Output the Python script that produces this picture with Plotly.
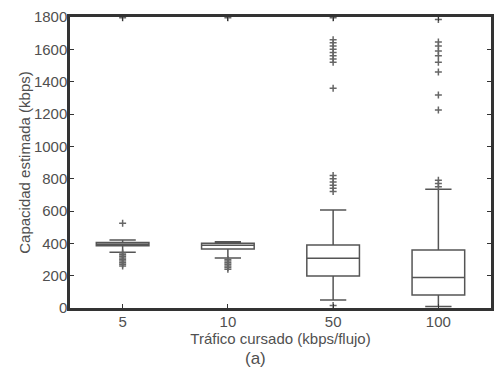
import plotly.graph_objects as go

categories = ["5", "10", "50", "100"]
positions = [1, 2, 3, 4]
q1 = [385, 365, 198, 80]
median = [395, 388, 307, 188]
q3 = [405, 400, 390, 359]
lowerfence = [345, 310, 50, 10]
upperfence = [420, 410, 606, 734]

outliers = {
    1: [525, 340, 330, 320, 310, 300, 290, 280, 270, 260, 1795],
    2: [300, 290, 280, 270, 260, 250, 240, 1795],
    3: [1795, 1660, 1640, 1620, 1600, 1580, 1560, 1540, 1520, 1360,
        820, 800, 780, 760, 740, 720, 15],
    4: [1785, 1645, 1620, 1590, 1560, 1520, 1460, 1317, 1225, 790, 770, 750],
}

fig = go.Figure()
fig.add_trace(go.Box(
    x=positions, q1=q1, median=median, q3=q3,
    lowerfence=lowerfence, upperfence=upperfence,
    boxpoints=False, width=0.5, whiskerwidth=0.5,
    fillcolor="white", line=dict(color="#555555", width=1.5),
    showlegend=False,
))
for pos, vals in outliers.items():
    fig.add_trace(go.Scatter(
        x=[pos] * len(vals), y=vals, mode="markers",
        marker=dict(symbol="cross-thin-open", size=5, color="#666666",
                    line=dict(color="#666666", width=1.5)),
        showlegend=False, cliponaxis=True,
    ))

txt = "#505050"
fig.update_layout(
    width=494, height=377,
    margin=dict(l=70, r=0, t=17, b=69),
    paper_bgcolor="white", plot_bgcolor="white",
    font=dict(family="Liberation Sans, Arial, sans-serif", size=15, color=txt),
    xaxis=dict(
        range=[0.5, 4.5], tickvals=positions, ticktext=categories,
        showgrid=False, zeroline=False,
        showline=True, linecolor="#333333", linewidth=2.5, mirror="ticks",
        ticks="inside", ticklen=4, tickcolor="#333333",
        ticklabelstandoff=-2,
        title=dict(text="Tráfico cursado (kbps/flujo)", standoff=0,
                   font=dict(size=15, color=txt)),
    ),
    yaxis=dict(
        range=[0, 1800], tickvals=list(range(0, 1801, 200)),
        showgrid=False, zeroline=False,
        showline=True, linecolor="#333333", linewidth=2.5, mirror="ticks",
        ticks="inside", ticklen=4, tickcolor="#333333",
        ticklabelstandoff=-3,
        title=dict(text="Capacidad estimada (kbps)", standoff=0,
                   font=dict(size=15, color=txt)),
    ),
    annotations=[dict(
        text="(a)", xref="paper", yref="paper", x=0.44, y=-0.135,
        xanchor="center", yanchor="top", showarrow=False,
        font=dict(size=17, color=txt),
    )],
)

fig.write_html("out.html")
